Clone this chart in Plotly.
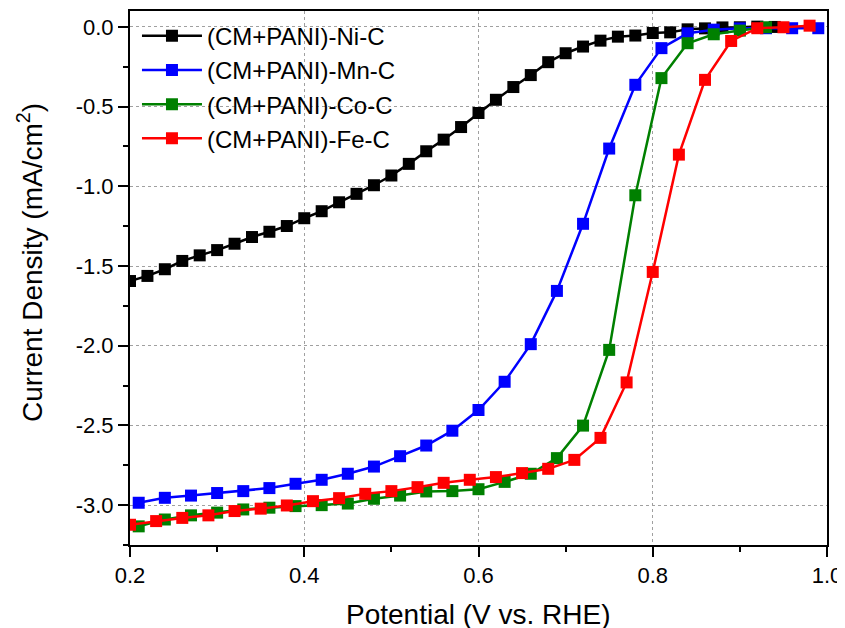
import plotly.graph_objects as go

# ---- data ----
ni_x = [0.20, 0.22, 0.24, 0.26, 0.28, 0.30, 0.32, 0.34, 0.36, 0.38, 0.40, 0.42, 0.44,
        0.46, 0.48, 0.50, 0.52, 0.54, 0.56, 0.58, 0.60, 0.62, 0.64, 0.66, 0.68, 0.70,
        0.72, 0.74, 0.76, 0.78, 0.80, 0.82, 0.84, 0.86, 0.88, 0.90, 0.92, 0.94]
ni_y = [-1.594, -1.562, -1.52, -1.468, -1.433, -1.40, -1.36, -1.318, -1.285, -1.249,
        -1.20, -1.156, -1.10, -1.047, -0.993, -0.932, -0.859, -0.78, -0.707, -0.628,
        -0.54, -0.457, -0.377, -0.302, -0.221, -0.165, -0.123, -0.086, -0.061, -0.054,
        -0.038, -0.034, -0.015, -0.009, -0.003, -0.002, 0.002, 0.0]

mn_x = [0.21, 0.24, 0.27, 0.30, 0.33, 0.36, 0.39, 0.42, 0.45, 0.48, 0.51, 0.54, 0.57,
        0.60, 0.63, 0.66, 0.69, 0.72, 0.75, 0.78, 0.81, 0.84, 0.87, 0.90, 0.93, 0.96, 0.99]
mn_y = [-2.985, -2.954, -2.94, -2.924, -2.912, -2.893, -2.866, -2.841, -2.803, -2.758,
        -2.693, -2.626, -2.533, -2.403, -2.226, -1.99, -1.656, -1.235, -0.763, -0.363,
        -0.133, -0.04, -0.017, -0.009, -0.008, -0.008, -0.008]

co_x = [0.21, 0.24, 0.27, 0.30, 0.33, 0.36, 0.39, 0.42, 0.45, 0.48, 0.51, 0.54, 0.57,
        0.60, 0.63, 0.66, 0.69, 0.72, 0.75, 0.78, 0.81, 0.84, 0.87, 0.90, 0.93]
co_y = [-3.133, -3.09, -3.064, -3.047, -3.027, -3.016, -3.006, -3.0, -2.99, -2.96,
        -2.94, -2.914, -2.912, -2.90, -2.854, -2.803, -2.705, -2.501, -2.026, -1.056,
        -0.321, -0.102, -0.046, -0.023, -0.002]

fe_x = [0.20, 0.23, 0.26, 0.29, 0.32, 0.35, 0.38, 0.41, 0.44, 0.47, 0.50, 0.53, 0.56,
        0.59, 0.62, 0.65, 0.68, 0.71, 0.74, 0.77, 0.80, 0.83, 0.86, 0.89, 0.92, 0.95, 0.98]
fe_y = [-3.123, -3.10, -3.08, -3.064, -3.037, -3.022, -3.002, -2.975, -2.956, -2.929,
        -2.912, -2.887, -2.86, -2.841, -2.824, -2.799, -2.772, -2.716, -2.578, -2.23,
        -1.537, -0.801, -0.332, -0.088, -0.008, -0.002, 0.008]

series_names = ["(CM+PANI)-Ni-C", "(CM+PANI)-Mn-C", "(CM+PANI)-Co-C", "(CM+PANI)-Fe-C"]
series_colors = ["#000000", "#0000FF", "#008000", "#FF0000"]

x_tickvals = [0.2, 0.4, 0.6, 0.8, 1.0]
x_ticktext = ["0.2", "0.4", "0.6", "0.8", "1.0"]
y_tickvals = [0.0, -0.5, -1.0, -1.5, -2.0, -2.5, -3.0]
y_ticktext = ["0.0", "-0.5", "-1.0", "-1.5", "-2.0", "-2.5", "-3.0"]

x_title = "Potential (V vs. RHE)"
y_title = "Current Density (mA/cm<sup>2</sup>)"

FONT = "Liberation Sans, Arial, sans-serif"

fig = go.Figure()
for xs, ys, name, col in zip([ni_x, mn_x, co_x, fe_x], [ni_y, mn_y, co_y, fe_y],
                             series_names, series_colors):
    fig.add_trace(go.Scatter(
        x=xs, y=ys, name=name, mode="lines+markers",
        line=dict(color=col, width=2.5),
        marker=dict(symbol="square", size=12, color=col, line=dict(width=0)),
    ))

axis_common = dict(
    showline=True, linecolor="black", linewidth=2, mirror=True,
    ticks="outside", ticklen=10, tickwidth=2, tickcolor="black",
    tickfont=dict(family=FONT, size=22, color="black"),
    showgrid=True, gridcolor="#a0a0a0", gridwidth=1, griddash="dot",
    zeroline=False, automargin=False,
)

fig.update_xaxes(
    range=[0.2, 1.0], tickmode="array", tickvals=x_tickvals, ticktext=x_ticktext,
    minor=dict(ticks="outside", ticklen=5, tickwidth=2, tickcolor="black",
               tick0=0.3, dtick=0.2, showgrid=False),
    **axis_common,
)
fig.update_yaxes(
    range=[-3.25, 0.1], tickmode="array", tickvals=y_tickvals, ticktext=y_ticktext,
    minor=dict(ticks="outside", ticklen=5, tickwidth=2, tickcolor="black",
               tick0=-0.25, dtick=0.5, showgrid=False),
    **axis_common,
)

# axis titles as annotations (positioned like the reference)
fig.add_annotation(
    text=x_title, xref="paper", yref="paper", x=0.5, y=-0.131,
    xanchor="center", yanchor="middle", showarrow=False,
    font=dict(family=FONT, size=28, color="black"),
)
fig.add_annotation(
    text=y_title, textangle=-90,
    xref="paper", yref="paper", x=-0.1435, y=0.53,
    xanchor="center", yanchor="middle", showarrow=False,
    font=dict(family=FONT, size=28, color="black"),
)

# the page body has an 8px margin, so the figure is 8px smaller and left/top margins shifted
fig.update_layout(
    width=837, height=620,
    margin=dict(l=122, r=18, t=3, b=83),
    paper_bgcolor="white", plot_bgcolor="white",
    font=dict(family=FONT, color="black"),
    showlegend=True,
    legend=dict(x=0.01, y=0.995, xanchor="left", yanchor="top",
                bgcolor="rgba(0,0,0,0)", borderwidth=0,
                font=dict(family=FONT, size=24, color="black"),
                itemwidth=60, tracegroupgap=0),
)

fig.write_html("out.html")
